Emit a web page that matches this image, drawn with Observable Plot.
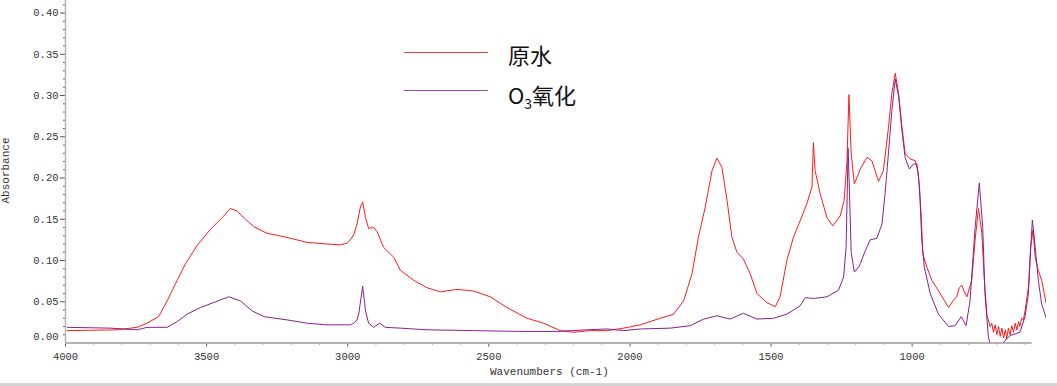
<!DOCTYPE html>
<html>
<head>
<meta charset="utf-8">
<script src="https://cdn.jsdelivr.net/npm/d3@7"></script>
<script src="https://cdn.jsdelivr.net/npm/@observablehq/plot@0.6"></script>
<style>
  html, body { margin: 0; padding: 0; background: #fff; }
  #wrap { position: relative; width: 1057px; height: 386px; overflow: hidden; }
  .lab { position: absolute; font-family: "Liberation Mono", "DejaVu Sans Mono", monospace; font-size: 11px; line-height: 11px; color: #333; white-space: nowrap; }
  .leg { position: absolute; font-family: "Noto Sans CJK SC", "Noto Sans", sans-serif; font-size: 22px; color: #111; white-space: nowrap; line-height: 1; }
  .leg sub { font-size: 14px; vertical-align: -5px; line-height: 0; }
  .sw { position: absolute; height: 1px; }
  #bottomBar { position: absolute; left: 0; top: 383px; width: 1057px; height: 3px; background: #d4d4d4; }
</style>
</head>
<body>
<div id="wrap">
  <div id="chart"></div>
  <div class="lab" id="ylab" style="left:-27px; top:165px; transform: rotate(-90deg); transform-origin: center;">Absorbance</div>
  <div class="lab" id="xlab" style="left:490px; top:367px;">Wavenumbers (cm-1)</div>
  <div class="sw" style="left:404px; top:52px; width:84px; background:#ff3b3b;"></div>
  <div class="leg" style="left:508px; top:43px;">原水</div>
  <div class="sw" style="left:404px; top:90px; width:84px; background:#a044a8;"></div>
  <div class="leg" style="left:508px; top:83px;">O<sub>3</sub>氧化</div>
  <div id="bottomBar"></div>
</div>
<script>
// ---- data ----
const seriesNames = ["原水", "O3氧化"];

const rawWavenumber = [3994, 3817, 3746, 3711, 3670, 3640, 3610, 3575, 3534, 3486, 3439, 3416, 3392, 3362, 3333, 3286, 3215, 3144, 3073, 3026, 3002, 2991, 2979, 2967, 2955, 2947, 2937, 2926, 2908, 2896, 2873, 2837, 2813, 2766, 2719, 2672, 2613, 2554, 2495, 2436, 2365, 2306, 2247, 2200, 2141, 2081, 2023, 1963, 1893, 1845, 1810, 1780, 1757, 1733, 1709, 1692, 1674, 1656, 1639, 1621, 1598, 1574, 1550, 1515, 1485, 1468, 1444, 1420, 1397, 1373, 1355, 1350, 1344, 1326, 1302, 1281, 1255, 1241, 1231, 1224, 1216, 1205, 1190, 1184, 1160, 1143, 1119, 1102, 1084, 1072, 1060, 1048, 1036, 1025, 1007, 989, 978, 969, 962, 948, 930, 901, 885, 871, 856, 842, 833, 824, 815, 806, 789, 777, 765, 753, 745, 735, 730, 724, 718, 712, 706, 700, 694, 688, 682, 676, 670, 665, 659, 653, 647, 641, 635, 629, 623, 618, 612, 606, 600, 588, 580, 572, 564, 553, 541, 532, 526];
const rawAbs = [0.015, 0.016, 0.019, 0.024, 0.032, 0.051, 0.072, 0.096, 0.118, 0.138, 0.154, 0.163, 0.160, 0.150, 0.141, 0.133, 0.128, 0.122, 0.120, 0.119, 0.121, 0.125, 0.131, 0.144, 0.165, 0.171, 0.152, 0.139, 0.140, 0.135, 0.116, 0.104, 0.088, 0.076, 0.067, 0.062, 0.065, 0.063, 0.056, 0.043, 0.030, 0.024, 0.015, 0.013, 0.015, 0.015, 0.018, 0.022, 0.030, 0.035, 0.051, 0.084, 0.129, 0.165, 0.209, 0.224, 0.213, 0.173, 0.129, 0.110, 0.102, 0.084, 0.060, 0.049, 0.044, 0.056, 0.100, 0.129, 0.148, 0.169, 0.189, 0.243, 0.209, 0.181, 0.152, 0.142, 0.154, 0.173, 0.221, 0.301, 0.230, 0.193, 0.205, 0.211, 0.225, 0.221, 0.196, 0.209, 0.261, 0.302, 0.327, 0.302, 0.261, 0.230, 0.223, 0.221, 0.205, 0.161, 0.108, 0.092, 0.076, 0.060, 0.051, 0.043, 0.051, 0.056, 0.067, 0.070, 0.062, 0.056, 0.076, 0.125, 0.163, 0.133, 0.080, 0.033, 0.028, 0.020, 0.024, 0.013, 0.022, 0.010, 0.020, 0.008, 0.018, 0.006, 0.016, 0.005, 0.018, 0.010, 0.021, 0.013, 0.024, 0.016, 0.026, 0.020, 0.030, 0.028, 0.039, 0.068, 0.116, 0.137, 0.104, 0.088, 0.076, 0.060, 0.049];

const o3Wavenumber = [3994, 3841, 3746, 3711, 3640, 3604, 3569, 3522, 3475, 3422, 3380, 3339, 3298, 3215, 3144, 3073, 2991, 2979, 2967, 2961, 2947, 2937, 2926, 2908, 2887, 2867, 2813, 2719, 2554, 2377, 2258, 2152, 2081, 2023, 1963, 1857, 1786, 1739, 1692, 1645, 1598, 1550, 1491, 1444, 1397, 1379, 1350, 1302, 1261, 1243, 1234, 1227, 1222, 1216, 1205, 1190, 1184, 1166, 1149, 1125, 1107, 1096, 1084, 1072, 1060, 1048, 1036, 1025, 1010, 995, 983, 974, 966, 957, 936, 907, 871, 848, 826, 809, 795, 777, 762, 750, 742, 730, 721, 706, 688, 671, 653, 618, 600, 588, 580, 574, 564, 553, 541, 526];
const o3Abs = [0.019, 0.018, 0.016, 0.019, 0.019, 0.026, 0.035, 0.043, 0.049, 0.056, 0.051, 0.039, 0.032, 0.028, 0.024, 0.022, 0.022, 0.024, 0.028, 0.035, 0.069, 0.039, 0.024, 0.019, 0.024, 0.019, 0.018, 0.016, 0.015, 0.014, 0.014, 0.016, 0.017, 0.015, 0.017, 0.018, 0.021, 0.029, 0.033, 0.029, 0.036, 0.029, 0.030, 0.035, 0.045, 0.055, 0.054, 0.056, 0.064, 0.080, 0.116, 0.236, 0.181, 0.110, 0.086, 0.092, 0.096, 0.112, 0.125, 0.127, 0.144, 0.181, 0.230, 0.282, 0.320, 0.299, 0.257, 0.225, 0.211, 0.217, 0.217, 0.189, 0.125, 0.092, 0.060, 0.035, 0.020, 0.021, 0.032, 0.021, 0.051, 0.140, 0.194, 0.140, 0.060, 0.007, -0.005, -0.012, -0.004, 0.003, 0.009, 0.013, 0.032, 0.060, 0.116, 0.149, 0.116, 0.076, 0.047, 0.031];

const xTickValues = [4000, 3500, 3000, 2500, 2000, 1500, 1000];
const xMinorTickValues = [3900, 3800, 3700, 3600, 3400, 3300, 3200, 3100, 2900, 2800, 2700, 2600, 2400, 2300, 2200, 2100, 1900, 1800, 1700, 1600, 1400, 1300, 1200, 1100, 900, 800, 700, 600];
const yTickValues = [0.05, 0.10, 0.15, 0.20, 0.25, 0.30, 0.35, 0.40];
const yZeroTick = [0.00];
const yMinorTickValues = [0.01, 0.02, 0.03, 0.04, 0.06, 0.07, 0.08, 0.09, 0.11, 0.12, 0.13, 0.14, 0.16, 0.17, 0.18, 0.19, 0.21, 0.22, 0.23, 0.24, 0.26, 0.27, 0.28, 0.29, 0.31, 0.32, 0.33, 0.34, 0.36, 0.37, 0.38, 0.39, 0.41];
const seriesColors = ["#ff1a1a", "#87208f"];

// ---- build tables ----
const rawData = rawWavenumber.map((w, i) => ({wn: w, a: rawAbs[i], s: seriesNames[0]}));
const o3Data = o3Wavenumber.map((w, i) => ({wn: w, a: o3Abs[i], s: seriesNames[1]}));

const xDomain = [4000, 524];
const yDomain = [0, 0.4152];

const chart = Plot.plot({
  width: 1057,
  height: 384,
  marginLeft: 65,
  marginRight: 11,
  marginTop: 0,
  marginBottom: 41.5,
  style: {fontFamily: "'Liberation Mono', 'DejaVu Sans Mono', monospace", fontSize: "10.5px", color: "#333", background: "transparent"},
  x: {domain: xDomain},
  y: {domain: yDomain},
  marks: [
    Plot.axisX({ticks: xTickValues, tickSize: 4, tickPadding: 6, tickFormat: d => String(d), label: null, stroke: "#555"}),
    Plot.axisX({ticks: xMinorTickValues, tickSize: 2, tickFormat: () => "", label: null, stroke: "#666"}),
    Plot.axisY({ticks: yTickValues, tickSize: 5, tickPadding: 2, tickFormat: d => d.toFixed(2), label: null, stroke: "#555"}),
    Plot.axisY({ticks: yZeroTick, tickSize: 0, tickPadding: 7, dy: -6, tickFormat: d => d.toFixed(2), label: null}),
    Plot.axisY({ticks: yMinorTickValues, tickSize: 2, tickFormat: () => "", label: null, stroke: "#666"}),
    Plot.ruleY([0], {x1: xDomain[0], x2: 575, stroke: "#b4b4b4", strokeWidth: 2}),
    Plot.ruleX([xDomain[0]], {y1: yDomain[0], y2: yDomain[1], stroke: "#b4b4b4", strokeWidth: 1.5}),
    Plot.line(rawData, {x: "wn", y: "a", stroke: seriesColors[0], strokeWidth: 1, clip: true}),
    Plot.line(o3Data, {x: "wn", y: "a", stroke: seriesColors[1], strokeWidth: 1, clip: true})
  ]
});
document.getElementById("chart").appendChild(chart);
</script>
</body>
</html>
